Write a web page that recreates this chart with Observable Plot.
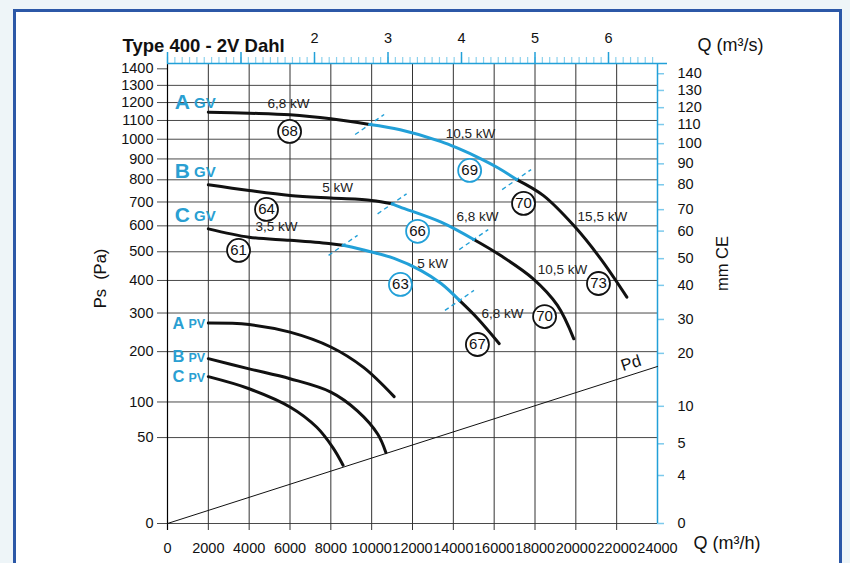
<!DOCTYPE html>
<html><head><meta charset="utf-8">
<script src="https://cdn.jsdelivr.net/npm/d3@7"></script>
<script src="https://cdn.jsdelivr.net/npm/@observablehq/plot@0.6"></script>
<style>
html,body{margin:0;padding:0;background:#eef5f8;width:850px;height:563px;overflow:hidden;}
#frame{position:absolute;left:13px;top:9px;width:823px;height:600px;border:3px solid #2c58a7;background:#fff;}
#chart{position:absolute;left:0;top:0;}
#chart text{white-space:pre;}
</style></head><body>
<div id="frame"></div><div id="chart"></div>
<script>
// ---------- axes ----------
const qTicks = [0, 2000, 4000, 6000, 8000, 10000, 12000, 14000, 16000, 18000, 20000, 22000, 24000];
const paTicks = [1400, 1300, 1200, 1100, 1000, 900, 800, 700, 600, 500, 400, 300, 200, 100, 50, 0];
const paGrid = [1300, 1200, 1100, 1000, 900, 800, 700, 600, 500, 400, 300, 200, 100, 50, 0];
const mmLabels = [140, 130, 120, 110, 100, 90, 80, 70, 60, 50, 40, 30, 20, 10, 5, 4, 0];
const mmAtPa = [1370, 1270, 1171, 1078, 977, 876, 777, 667, 579, 475, 384, 282, 196, 93, 43, 15.6, 0];
const qsMajor = [0, 1, 2, 3, 4, 5, 6];
const qsLabels = [2, 3, 4, 5, 6];
const qsMinor = Array.from({length: 67}, (_, i) => i / 10);
const yTop = 1433;

// ---------- GV curves (black / blue / black) ----------
const aGvQ  = [2000, 4000, 6000, 8000, 9900, 11400, 13400, 14300, 15200, 16200, 17100, 18400, 19900, 21200, 22500];
const aGvPa = [1146, 1140, 1131, 1109, 1078, 1050, 988, 950, 908, 856, 801, 729, 601, 476, 347];
const aGvBreaks = [9900, 17100];
const bGvQ  = [2000, 4000, 6000, 8000, 10000, 11000, 11400, 13400, 15000, 16300, 17900, 19100, 19900];
const bGvPa = [777, 751, 729, 717, 707, 692, 678, 615, 546, 487, 406, 322, 231];
const bGvBreaks = [11000, 15000];
const cGvQ  = [2000, 4000, 6000, 8000, 8600, 9900, 11100, 12400, 13400, 14300, 15200, 16250];
const cGvPa = [588, 555, 543, 530, 524, 501, 476, 434, 390, 337, 284, 219];
const cGvBreaks = [8600, 14300];

// ---------- PV curves ----------
const aPvQ  = [2000, 4000, 6000, 8000, 9600, 11100];
const aPvPa = [272, 268, 248, 211, 165, 109];
const bPvQ  = [2000, 4000, 6000, 8000, 9300, 10300, 10700];
const bPvPa = [184, 162, 142, 117, 86, 54, 34];
const cPvQ  = [2000, 4000, 6000, 7300, 8100, 8600];
const cPvPa = [146, 123, 92, 63, 39, 23];

// ---------- dynamic pressure ----------
const pdQ = [0, 24000];
const pdPa = [0, 167];

// ---------- annotations ----------
const gvLetters = ["A", "B", "C"];
const gvLabelQ = [1200, 1200, 1200];
const gvLabelPa = [1200, 839, 645];
const pvLetters = ["A", "B", "C"];
const pvLabelQ = [930, 930, 930];
const pvLabelPa = [271, 188, 146];

const kwText = ["6,8 kW", "10,5 kW", "15,5 kW", "5 kW", "6,8 kW", "10,5 kW", "3,5 kW", "5 kW", "6,8 kW"];
const kwQ    = [5930, 14840, 21300, 8330, 15180, 19350, 5340, 12980, 16410];
const kwPa   = [1195, 1030, 638, 765, 638, 437, 598, 458, 299];

const circleNum = ["68", "69", "70", "73", "64", "66", "70", "61", "63", "67"];
const circleQ   = [5980, 14800, 17440, 21110, 4850, 12250, 18470, 3480, 11410, 15180];
const circlePa  = [1041, 844, 694, 390, 668, 578, 290, 505, 387, 217];
const circleSeg = [0, 1, 2, 2, 0, 1, 2, 0, 1, 2];

const pdLabel = {q: 22700, pa: 174};

// ---------- build ----------
const blue = "#22a0d8";
const labelBlue = "#2a9fd2";
const ink = "#111";

function rows(Q, P) { return Q.map((q, i) => ({q, p: P[i]})); }
const gv = [[aGvQ, aGvPa, aGvBreaks], [bGvQ, bGvPa, bGvBreaks], [cGvQ, cGvPa, cGvBreaks]];
const blackRows = [], blueRows = [], breakRows = [];
gv.forEach(([Q, P, [b1, b2]], k) => {
  rows(Q, P).forEach(d => {
    if (d.q <= b1) blackRows.push({...d, z: k + "a"});
    if (d.q >= b1 && d.q <= b2) blueRows.push({...d, z: k + "b"});
    if (d.q >= b2) blackRows.push({...d, z: k + "c"});
    if (d.q === b1 || d.q === b2) breakRows.push(d);
  });
});
const pvRows = [];
[[aPvQ, aPvPa], [bPvQ, bPvPa], [cPvQ, cPvPa]].forEach(([Q, P], k) =>
  rows(Q, P).forEach(d => pvRows.push({...d, z: "pv" + k})));

const dashSymbol = {draw(ctx) { ctx.moveTo(-14.5, 10); ctx.lineTo(14.5, -10); }};
const font = "Liberation Sans, Arial, Helvetica, sans-serif";
const circles = circleNum.map((t, i) => ({t, q: circleQ[i], p: circlePa[i], s: circleSeg[i]}));

const chart = Plot.plot({
  width: 850, height: 563,
  marginLeft: 167, marginRight: 193, marginTop: 63, marginBottom: 40,
  x: {domain: [0, 24000], axis: null},
  y: {type: "sqrt", domain: [0, yTop], axis: null},
  style: {background: "transparent", fontFamily: font, overflow: "visible", color: ink},
  marks: [
    // grid
    Plot.ruleY(paGrid, {y: d => d, insetLeft: -10, stroke: "#4a4a4a", strokeWidth: 1}),
    Plot.ruleY([1400], {y: d => d, x1: () => 0, x2: () => 0, insetLeft: -10, stroke: "#4a4a4a"}),
    Plot.ruleX(qTicks.slice(1, -1), {x: d => d, insetBottom: -7, stroke: "#333", strokeWidth: 1}),
    Plot.ruleX([0], {x: d => d, insetBottom: -7, stroke: "#000", strokeWidth: 1.2}),
    // right axis (mm CE)
    Plot.ruleY(mmAtPa, {y: d => d, x1: () => 24000, x2: () => 24000, insetRight: -7, stroke: "#7dcaec", strokeWidth: 1.5}),
    Plot.ruleX([24000], {x: d => d, stroke: blue, strokeWidth: 1.5}),
    // top axis (m3/s)
    Plot.ruleX(qsMinor, {x: d => d * 3600, y1: () => yTop, y2: () => yTop, insetTop: -6, stroke: "#8dd2ee", strokeWidth: 1.2}),
    Plot.ruleX(qsMajor, {x: d => d * 3600, y1: () => yTop, y2: () => yTop, insetTop: -11, stroke: blue, strokeWidth: 1.5}),
    Plot.ruleY([yTop], {y: d => d, x1: () => 0, x2: () => 24000, insetRight: -10, stroke: blue, strokeWidth: 1.5}),
    // tick labels
    Plot.text(paTicks, {x: () => 0, y: d => d, text: d => String(d), dx: -14, textAnchor: "end", fontSize: 14.5, fill: ink}),
    Plot.text(qTicks, {x: d => d, y: () => 0, text: d => String(d), dy: 25, fontSize: 14.5, fill: ink}),
    Plot.text(qsLabels, {x: d => d * 3600, y: () => yTop, text: d => String(d), dy: -25, fontSize: 14.5, fill: ink}),
    Plot.text(mmLabels, {x: () => 24000, y: (d, i) => mmAtPa[i], text: d => String(d), dx: 20, textAnchor: "start", fontSize: 14.5, fill: ink}),
    // axis titles
    Plot.text(["Type 400 - 2V Dahl"], {frameAnchor: "top-left", dx: -45, dy: -25, textAnchor: "start", fontSize: 18.5, fontWeight: "bold", fill: ink}),
    Plot.text(["Q (m³/s)"], {frameAnchor: "top-right", dx: 40, dy: -25, textAnchor: "start", fontSize: 18, fill: ink}),
    Plot.text(["Q (m³/h)"], {frameAnchor: "bottom-right", dx: 36, dy: 25, textAnchor: "start", fontSize: 18, fill: ink}),
    Plot.text(["Ps  (Pa)"], {frameAnchor: "left", textAnchor: "middle", rotate: -90, dx: -67, dy: -15, fontSize: 16.5, fill: ink}),
    Plot.text(["mm CE"], {frameAnchor: "right", textAnchor: "middle", rotate: -90, dx: 65, dy: -30, fontSize: 16.5, fill: ink}),
    // Pd line
    Plot.line(rows(pdQ, pdPa), {x: "q", y: "p", stroke: ink, strokeWidth: 1}),
    Plot.text([pdLabel], {x: "q", y: "pa", text: () => "Pd", rotate: -18, fontSize: 16.5, fill: ink}),
    // curves
    Plot.line(pvRows, {x: "q", y: "p", z: "z", stroke: ink, strokeWidth: 3, curve: "catmull-rom", strokeLinecap: "round"}),
    Plot.line(blackRows, {x: "q", y: "p", z: "z", stroke: ink, strokeWidth: 3, curve: "catmull-rom"}),
    Plot.line(blueRows, {x: "q", y: "p", z: "z", stroke: blue, strokeWidth: 3, curve: "catmull-rom"}),
    Plot.dot(breakRows, {x: "q", y: "p", symbol: dashSymbol, r: 3, fill: "none", stroke: blue, strokeWidth: 1.4, strokeDasharray: "4.5,3.5"}),
    // curve labels
    Plot.text(gvLetters, {x: (d, i) => gvLabelQ[i], y: (d, i) => gvLabelPa[i], text: d => d, dx: -2, textAnchor: "end", fontSize: 21, fontWeight: "bold", fill: labelBlue}),
    Plot.text(gvLetters, {x: (d, i) => gvLabelQ[i], y: (d, i) => gvLabelPa[i], text: () => "GV", dx: 2, dy: 1, textAnchor: "start", fontSize: 15, fontWeight: "bold", fill: labelBlue}),
    Plot.text(pvLetters, {x: (d, i) => pvLabelQ[i], y: (d, i) => pvLabelPa[i], text: d => d, dx: -2, textAnchor: "end", fontSize: 16.5, fontWeight: "bold", fill: labelBlue}),
    Plot.text(pvLetters, {x: (d, i) => pvLabelQ[i], y: (d, i) => pvLabelPa[i], text: () => "PV", dx: 2, dy: 1, textAnchor: "start", fontSize: 12.5, fontWeight: "bold", fill: labelBlue}),
    // kW labels
    Plot.text(kwText, {x: (d, i) => kwQ[i], y: (d, i) => kwPa[i], text: d => d, fontSize: 13.5, fill: "#222"}),
    // circled numbers
    Plot.dot(circles, {x: "q", y: "p", r: 11.5, fill: "white", stroke: d => d.s === 1 ? blue : ink, strokeWidth: 1.8}),
    Plot.text(circles, {x: "q", y: "p", text: "t", fontSize: 15, fill: "#111"})
  ]
});
document.getElementById("chart").appendChild(chart);
</script></body></html>
